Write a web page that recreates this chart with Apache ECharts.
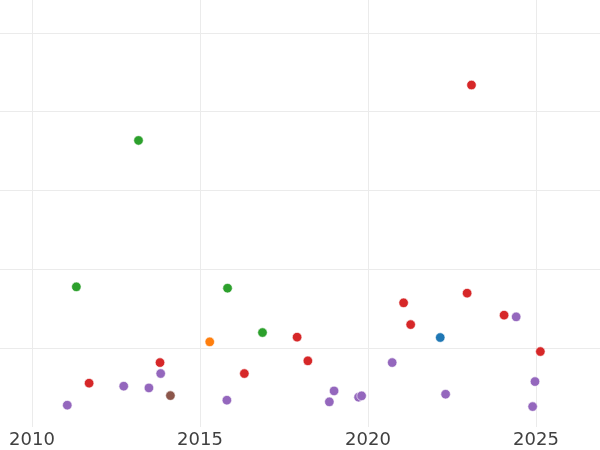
<!DOCTYPE html>
<html>
<head>
<meta charset="utf-8">
<script src="https://cdn.jsdelivr.net/npm/echarts@6/dist/echarts.min.js"></script>
<style>
html,body{margin:0;padding:0;background:#fff;width:600px;height:450px;overflow:hidden;position:relative}
#c{position:absolute;left:-136px;top:-46px;width:840px;height:496px}
</style>
</head>
<body>
<div id="c"></div>
<script>
const xTicks = [2005, 2010, 2015, 2020, 2025, 2030];
const xLabels = ['', '2010', '2015', '2020', '2025', ''];
const greenPts = [[2013.17,3.635],[2011.32,1.778],[2015.82,1.761],[2016.86,1.198]];
const redPts = [[2023.08,4.338],[2011.70,0.556],[2013.81,0.817],[2016.32,0.678],[2017.89,1.140],[2018.21,0.839],[2021.06,1.575],[2021.27,1.299],[2022.95,1.698],[2024.05,1.419],[2025.13,0.957]];
const purplePts = [[2011.05,0.277],[2012.73,0.518],[2013.48,0.496],[2013.83,0.678],[2015.80,0.340],[2018.99,0.458],[2018.85,0.319],[2019.72,0.378],[2019.81,0.395],[2020.72,0.817],[2022.31,0.416],[2024.41,1.397],[2024.97,0.576],[2024.90,0.259]];
const orangePts = [[2015.29,1.080]];
const brownPts = [[2014.12,0.398]];
const bluePts = [[2022.15,1.135]];

const chart = echarts.init(document.getElementById('c'), null, {renderer:'canvas'});
function s(name, data, color){
  return {name, type:'scatter', data, symbolSize:9.5,
    itemStyle:{color, borderColor:'#ffffff', borderWidth:0.6, opacity:1}};
}
chart.setOption({
  animation:false,
  backgroundColor:'#ffffff',
  grid:{left:0, right:0, top:0, bottom:23, containLabel:false, outerBoundsMode:'none'},
  xAxis:{type:'value', min:xTicks[0], max:xTicks[xTicks.length-1], interval:5,
    axisLine:{show:false}, axisTick:{show:false},
    axisLabel:{show:true, fontSize:18, color:'#404040', fontFamily:'DejaVu Sans', margin:4,
      formatter:v=>{const i=xTicks.indexOf(Math.round(v)); return i>=0?xLabels[i]:'';}},
    splitLine:{show:true, lineStyle:{color:'#ebebeb', width:1}}},
  yAxis:{type:'value', min:0, max:6, interval:1,
    axisLine:{show:false}, axisTick:{show:false}, axisLabel:{show:false},
    splitLine:{show:true, showMinLine:false, lineStyle:{color:'#ebebeb', width:1}}},
  series:[
    s('blue', bluePts, '#1f77b4'),
    s('orange', orangePts, '#ff7f0e'),
    s('green', greenPts, '#2ca02c'),
    s('red', redPts, '#d62728'),
    s('purple', purplePts, '#9467bd'),
    s('brown', brownPts, '#8c564b')
  ]
});
</script>
</body>
</html>
